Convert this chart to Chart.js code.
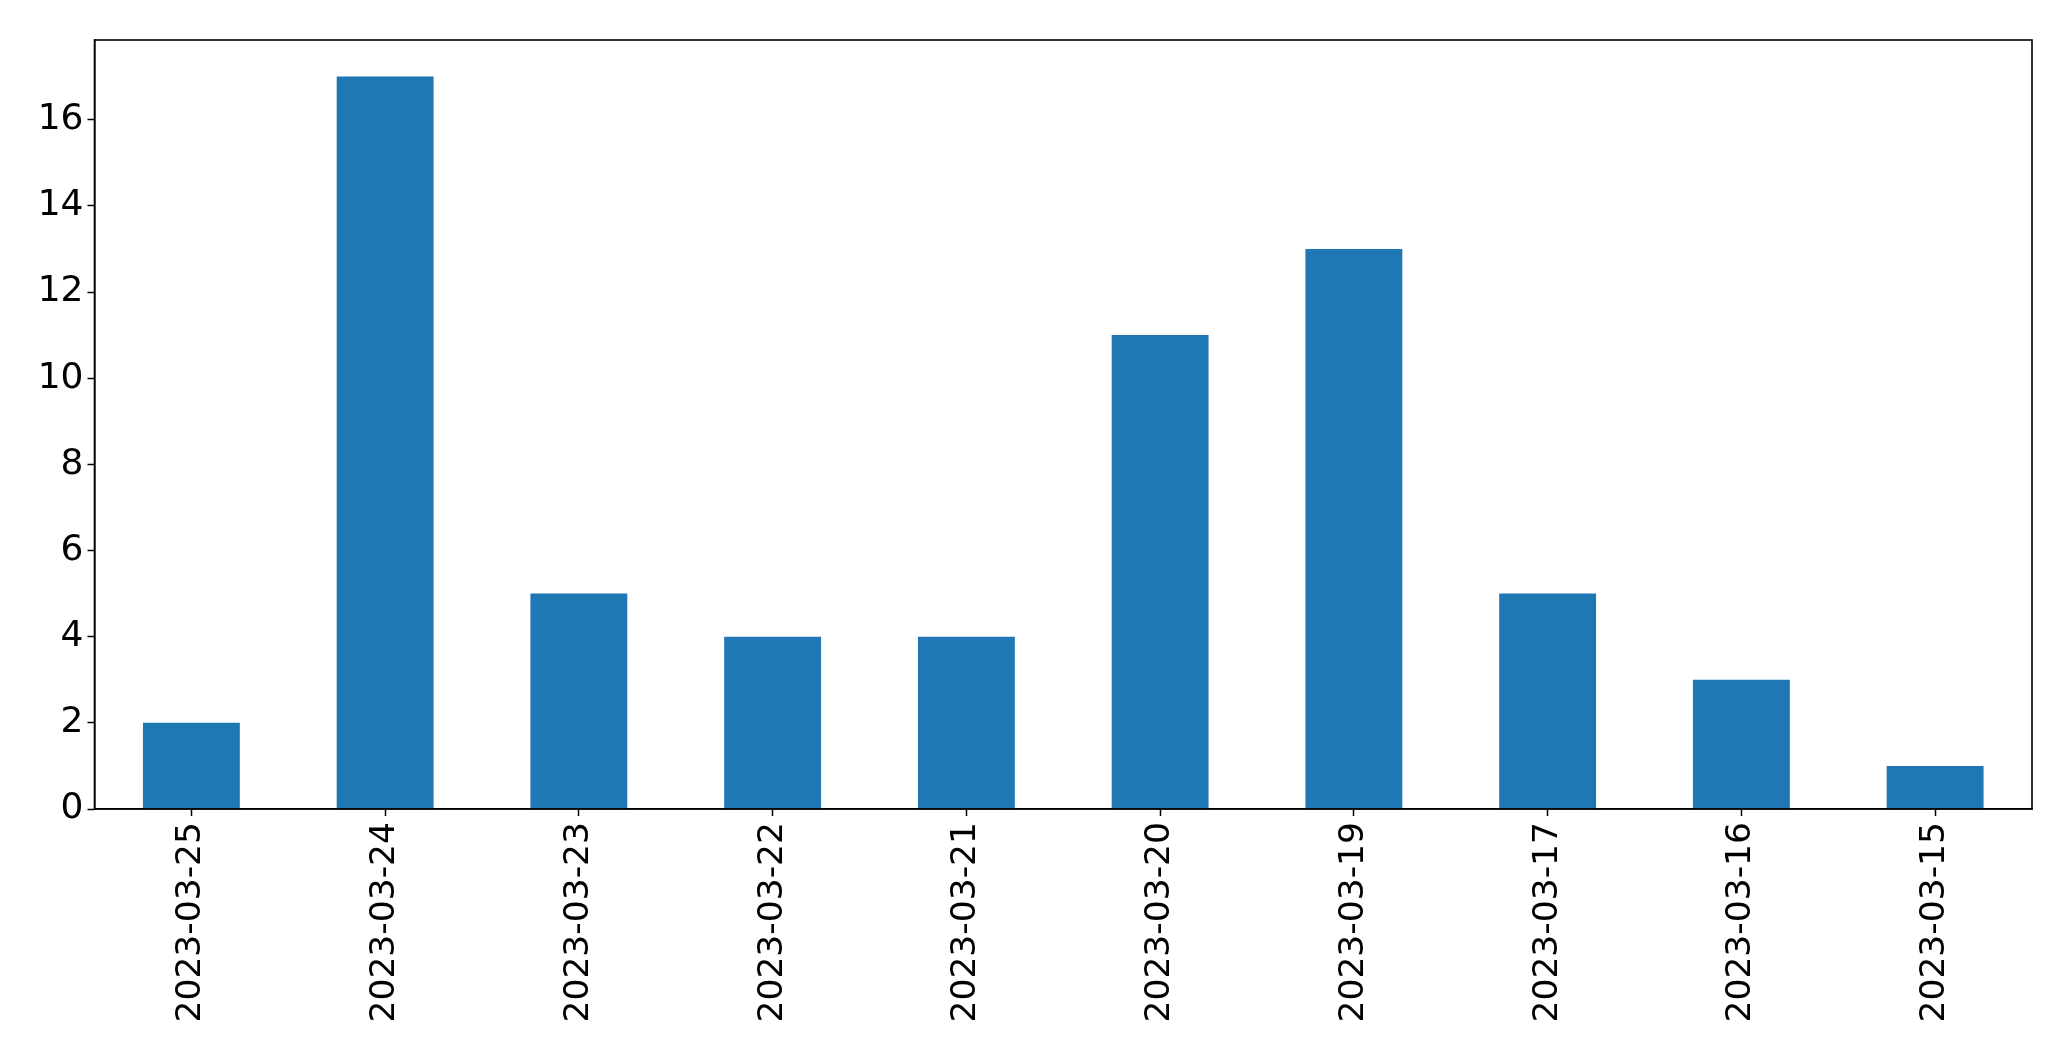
<!DOCTYPE html>
<html>
<head>
<meta charset="utf-8">
<script src="https://cdn.jsdelivr.net/npm/chart.js@4/dist/chart.umd.min.js"></script>
<style>
html,body{margin:0;padding:0;background:#fff;overflow:hidden;}
#c{display:block;}
</style>
</head>
<body>
<canvas id="c" width="2071" height="1061"></canvas>
<script>
const categories = ["2023-03-25","2023-03-24","2023-03-23","2023-03-22","2023-03-21","2023-03-20","2023-03-19","2023-03-17","2023-03-16","2023-03-15"];
const counts = [2,17,5,4,4,11,13,5,3,1];
const yMax = 17.85;
const yStep = 2;

const frame = {
  id: 'frame',
  afterDraw(chart) {
    const a = chart.chartArea, ctx = chart.ctx;
    ctx.save();
    ctx.strokeStyle = '#000';
    ctx.lineWidth = 1.6;
    ctx.strokeRect(a.left, a.top, a.right - a.left, a.bottom - a.top);
    ctx.restore();
  }
};

new Chart(document.getElementById('c'), {
  type: 'bar',
  data: {
    labels: categories,
    datasets: [{
      data: counts,
      backgroundColor: '#1f77b4',
      borderWidth: 0,
      categoryPercentage: 1.0,
      barPercentage: 0.5
    }]
  },
  options: {
    responsive: false,
    animation: false,
    devicePixelRatio: 1,
    layout: { padding: { top: 40, right: 39, left: 0, bottom: 0 } },
    plugins: { legend: { display: false }, tooltip: { enabled: false } },
    scales: {
      x: {
        offset: true,
        grid: { display: true, offset: false, drawOnChartArea: false, drawTicks: true, tickLength: 7, tickColor: '#000', tickWidth: 1.5 },
        border: { display: true, color: '#000', width: 1.6 },
        ticks: {
          color: '#000',
          font: { family: 'DejaVu Sans', size: 34.5 },
          maxRotation: 90, minRotation: 90,
          padding: 6,
          autoSkip: false
        },
        afterFit(s) { s.height = 252; }
      },
      y: {
        min: 0, max: yMax,
        grid: { display: true, drawOnChartArea: false, drawTicks: true, tickLength: 7, tickColor: '#000', tickWidth: 1.5 },
        border: { display: true, color: '#000', width: 1.6 },
        ticks: {
          stepSize: yStep,
          includeBounds: false,
          color: '#000',
          font: { family: 'DejaVu Sans', size: 36 },
          padding: 4
        },
        afterFit(s) { s.width = 94.5; }
      }
    }
  },
  plugins: [frame]
});
</script>
</body>
</html>
